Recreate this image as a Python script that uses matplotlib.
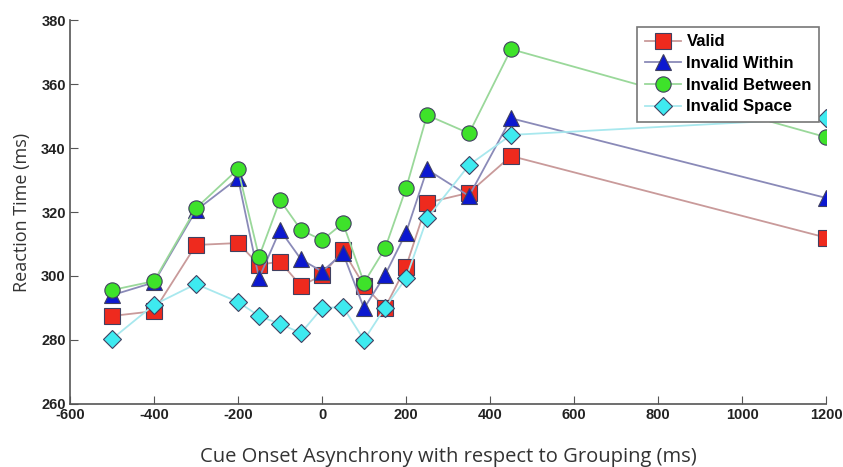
import matplotlib.pyplot as plt

plt.rcParams["axes.unicode_minus"] = False

# Cue onset asynchrony (ms)
soa = [-500, -400, -300, -200, -150, -100, -50, 0, 50, 100, 150, 200, 250, 350, 450, 1200]

valid = [287.5, 289, 309.7, 310.3, 303.5, 304.5, 296.9, 300.2, 308, 297, 290.1, 302.9, 322.9, 326, 337.5, 312]
invalid_within = [294, 298, 320.5, 330.6, 299.3, 314.4, 305.2, 301.4, 307.1, 289.9, 300.3, 313.5, 333.3, 325, 349.3, 324.4]
invalid_between = [295.6, 298.4, 321.2, 333.4, 306, 323.7, 314.4, 311.2, 316.5, 297.9, 308.6, 327.4, 350.3, 344.6, 370.9, 343.4]
invalid_space = [280.3, 291, 297.5, 291.9, 287.5, 285, 282.2, 290, 290.3, 280, 290.1, 299.3, 318, 334.7, 344.1, 349.4]

series = [
    ("Valid", valid, "s", "#ee2a1e", "#c99a9a"),
    ("Invalid Within", invalid_within, "^", "#0c18d0", "#8a8ab8"),
    ("Invalid Between", invalid_between, "o", "#3ee22a", "#9ad89a"),
    ("Invalid Space", invalid_space, "D", "#3eeaf0", "#a8e8ee"),
]

fig = plt.figure(figsize=(8.43, 4.67), dpi=100)
ax = fig.add_axes([0.083, 0.135, 0.897, 0.822])

for nombre, valores, marcador, color, color_linea in series:
    ax.plot(soa, valores, color=color_linea, lw=1.3, marker=marcador,
            markerfacecolor=color, markeredgecolor="#404060", markeredgewidth=0.8,
            markersize=11 if marcador != "D" else 9.5, label=nombre)

ax.set_xlim(-600, 1200)
ax.set_ylim(260, 380)
ax.set_xticks(range(-600, 1201, 200))
ax.set_yticks(range(260, 381, 20))

for s in ["top", "right"]:
    ax.spines[s].set_visible(False)
for s in ["left", "bottom"]:
    ax.spines[s].set_color("#555555")
    ax.spines[s].set_linewidth(1.2)

ax.tick_params(direction="in", length=6, color="#555555", pad=3)
for lbl in ax.get_xticklabels() + ax.get_yticklabels():
    lbl.set_family("Liberation Sans")
    lbl.set_fontweight("bold")
    lbl.set_fontsize(10.5)
    lbl.set_color("#222222")

ax.set_xlabel("Cue Onset Asynchrony with respect to Grouping (ms)",
              fontsize=14.5, family="Open Sans", color="#333333", labelpad=18)
ax.set_ylabel("Reaction Time (ms)", fontsize=13, family="Open Sans", color="#333333", labelpad=7)

leg = ax.legend(loc="upper right", bbox_to_anchor=(0.991, 0.982), borderaxespad=0,
                frameon=True, fancybox=False,
                prop={"family": "Liberation Sans", "weight": "bold", "size": 12},
                handlelength=2.2, handletextpad=0.3, borderpad=0.45, labelspacing=0.4,
                framealpha=1)
leg.get_frame().set_edgecolor("#777777")
leg.get_frame().set_linewidth(1.2)

fig.savefig("out.png", dpi=100)
